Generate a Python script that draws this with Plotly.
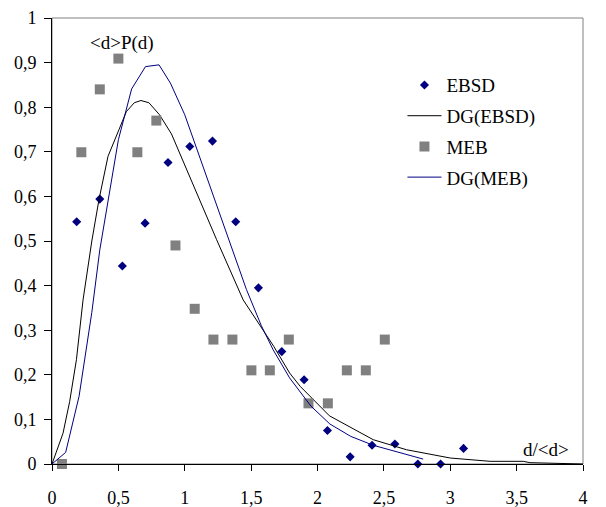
import plotly.graph_objects as go

# Measured data points
ebsd_x = [0.186, 0.360, 0.530, 0.701, 0.874, 1.038, 1.209, 1.384, 1.555, 1.731,
          1.899, 2.075, 2.246, 2.411, 2.583, 2.756, 2.927, 3.100]
ebsd_y = [0.543, 0.594, 0.444, 0.540, 0.676, 0.712, 0.724, 0.543, 0.395, 0.252,
          0.189, 0.075, 0.016, 0.042, 0.045, 0.0, 0.0, 0.035]

meb_x = [0.075, 0.221, 0.360, 0.500, 0.643, 0.786, 0.930, 1.075, 1.216, 1.359,
         1.502, 1.641, 1.784, 1.932, 2.078, 2.221, 2.364, 2.507]
meb_y = [0.0, 0.699, 0.840, 0.909, 0.699, 0.770, 0.490, 0.348, 0.279, 0.279,
         0.210, 0.210, 0.279, 0.136, 0.136, 0.210, 0.210, 0.279]

# Fitted curves
dg_ebsd_x = [0, 0.083, 0.133, 0.184, 0.234, 0.30, 0.354, 0.422, 0.505, 0.56, 0.62,
             0.67, 0.73, 0.81, 0.90, 1.0, 1.11, 1.24, 1.44, 1.67, 1.79, 1.87,
             2.09, 2.42, 2.67, 3.0, 3.3, 3.55, 3.6, 4.0]
dg_ebsd_y = [0, 0.069, 0.14, 0.234, 0.368, 0.50, 0.593, 0.69, 0.75, 0.79, 0.81,
             0.815, 0.81, 0.783, 0.74, 0.67, 0.596, 0.503, 0.368, 0.264, 0.204, 0.174,
             0.108, 0.0545, 0.032, 0.0134, 0.006, 0.006, 0.003, 0.0]

dg_meb_x = [0, 0.103, 0.204, 0.30, 0.36, 0.50, 0.60, 0.704, 0.806, 0.892, 1.0,
            1.115, 1.2, 1.332, 1.465, 1.577, 1.666, 1.79, 1.867, 1.95, 2.093,
            2.25, 2.42, 2.796]
dg_meb_y = [0, 0.026, 0.152, 0.34, 0.48, 0.727, 0.841, 0.891, 0.895, 0.854, 0.783,
            0.686, 0.615, 0.503, 0.391, 0.31, 0.256, 0.193, 0.163, 0.13, 0.0897,
            0.062, 0.042, 0.011]

x_ticks = [0, 0.5, 1, 1.5, 2, 2.5, 3, 3.5, 4]
x_tick_labels = ["0", "0,5", "1", "1,5", "2", "2,5", "3", "3,5", "4"]
y_ticks = [0, 0.1, 0.2, 0.3, 0.4, 0.5, 0.6, 0.7, 0.8, 0.9, 1]
y_tick_labels = ["0", "0,1", "0,2", "0,3", "0,4", "0,5", "0,6", "0,7", "0,8", "0,9", "1"]

FONT = "Liberation Serif"
NAVY = "#000080"
GREY = "#808080"

fig = go.Figure()
fig.add_trace(go.Scatter(x=ebsd_x, y=ebsd_y, mode="markers", name="EBSD",
                         legendgroup="a",
                         marker=dict(symbol="diamond", size=7, color=NAVY),
                         cliponaxis=False))
fig.add_trace(go.Scatter(x=dg_ebsd_x, y=dg_ebsd_y, mode="lines", name="DG(EBSD)",
                         legendgroup="b",
                         line=dict(color="black", width=1)))
fig.add_trace(go.Scatter(x=meb_x, y=meb_y, mode="markers", name="MEB",
                         legendgroup="c",
                         marker=dict(symbol="square", size=10, color=GREY),
                         cliponaxis=False))
fig.add_trace(go.Scatter(x=dg_meb_x, y=dg_meb_y, mode="lines", name="DG(MEB)",
                         legendgroup="d",
                         line=dict(color=NAVY, width=1)))

fig.update_layout(
    width=606, height=507,
    margin=dict(l=52, r=23, t=18, b=43),
    paper_bgcolor="white", plot_bgcolor="white",
    font=dict(family=FONT, size=18, color="black"),
    showlegend=True,
    legend=dict(x=0.66, y=0.892, xanchor="left", yanchor="top",
                font=dict(family=FONT, size=19), tracegroupgap=3, itemwidth=34,
                bgcolor="rgba(0,0,0,0)", traceorder="grouped"),
    xaxis=dict(range=[0, 4], tickvals=x_ticks, ticktext=x_tick_labels,
               showgrid=False, zeroline=False,
               showline=True, linecolor="black", linewidth=1,
               ticks="outside", ticklen=6, tickcolor="black", automargin=False,
               ticklabelstandoff=11, tickfont=dict(family=FONT, size=18)),
    yaxis=dict(range=[0, 1], tickvals=y_ticks, ticktext=y_tick_labels,
               showgrid=False, zeroline=False,
               showline=True, linecolor="black", linewidth=1,
               ticks="outside", ticklen=7, tickcolor="black", automargin=False,
               ticklabelstandoff=4, tickfont=dict(family=FONT, size=18)),
    shapes=[dict(type="rect", xref="paper", yref="paper", x0=0, x1=1, y0=0, y1=1,
                 line=dict(color=GREY, width=1), layer="below")],
    annotations=[
        dict(x=0.525, y=0.945, xref="x", yref="y", text="&lt;d&gt;P(d)",
             showarrow=False, font=dict(family=FONT, size=19)),
        dict(x=3.72, y=0.032, xref="x", yref="y", text="d/&lt;d&gt;",
             showarrow=False, font=dict(family=FONT, size=19)),
    ],
)

fig.write_html("out.html", config={"displayModeBar": False},
               post_script="document.body.style.margin='0';")
